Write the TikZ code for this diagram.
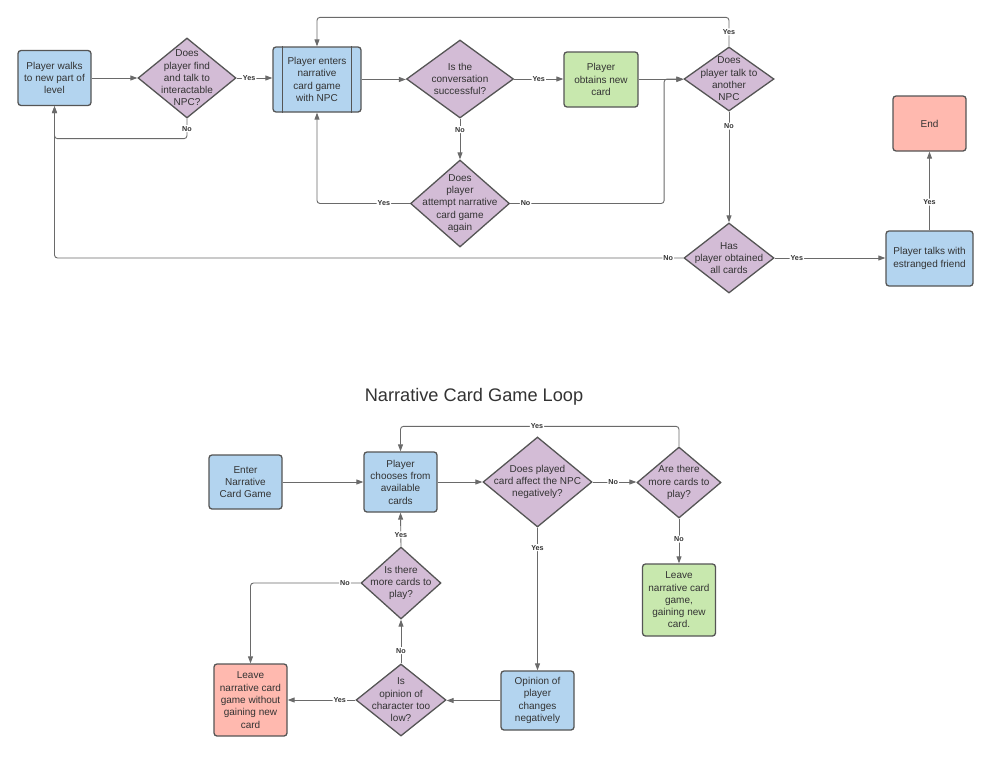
\documentclass[tikz,border=0pt]{standalone}
\usepackage{fontspec}
\setmainfont{Liberation Sans}
\usetikzlibrary{shapes.geometric,arrows.meta,calc}
\definecolor{bluef}{HTML}{B3D4EF}
\definecolor{purf}{HTML}{D3BCD6}
\definecolor{greenf}{HTML}{C8E8AE}
\definecolor{redf}{HTML}{FFB9AF}
\definecolor{edgec}{HTML}{555555}
\definecolor{linec}{HTML}{6A6A6A}
\definecolor{txt}{HTML}{333333}
\begin{document}
\begin{tikzpicture}[x=1pt,y=-1pt,
  bodyfont/.style={font=\fontsize{10}{12.3}\selectfont},
  box/.style={draw=edgec, line width=1.3pt, rounded corners=3pt, inner sep=0pt,
    align=center, text=txt, bodyfont, minimum width=73pt, minimum height=55pt},
  bluebox/.style={box, fill=bluef},
  greenbox/.style={box, fill=greenf},
  redbox/.style={box, fill=redf},
  dia/.style={diamond, draw=edgec, line width=1.3pt, inner sep=0pt, fill=purf},
  dtext/.style={align=center, text=txt, bodyfont, inner sep=0pt},
  conn/.style={draw=linec, line width=0.9pt, rounded corners=3pt},
  arr/.style={conn, -{Triangle[length=7pt,width=5pt]}},
  lbl/.style={fill=white, text=txt, font=\fontsize{7.2}{8}\selectfont\bfseries, inner sep=1pt}
]
\useasboundingbox[fill=white] (0,0) rectangle (991,774);

% ---------- top flow ----------
\node[bluebox] (A) at (54.5,78) {Player walks\\to new part of\\level};
\node[dia, minimum width=98pt, minimum height=80pt,
  label={[dtext]center:{Does\\player find\\and talk to\\interactable\\NPC?}}] (B) at (187,78) {};
\node[bluebox, minimum width=88pt, minimum height=65pt] (C) at (317,79.5) {Player enters\\narrative\\card game\\with NPC};
\draw[draw=edgec, line width=1.3pt] ([xshift=10pt]C.north west) -- ([xshift=10pt]C.south west);
\draw[draw=edgec, line width=1.3pt] ([xshift=-10pt]C.north east) -- ([xshift=-10pt]C.south east);
\node[dia, minimum width=107pt, minimum height=78pt,
  label={[dtext]center:{Is the\\conversation\\successful?}}] (D) at (460,79) {};
\node[greenbox, minimum width=74pt] (E) at (601,79.5) {Player\\obtains new\\card};
\node[dia, minimum width=90pt, minimum height=64pt,
  label={[dtext]center:{Does\\player talk to\\another\\NPC}}] (F) at (729,79) {};
\node[dia, minimum width=99pt, minimum height=87pt,
  label={[dtext]center:{Does\\player\\attempt narrative\\card game\\again}}] (G) at (460,203.5) {};
\node[dia, minimum width=90pt, minimum height=70pt,
  label={[dtext]center:{Has\\player obtained\\all cards}}] (H) at (729,258) {};
\node[bluebox, minimum width=87pt] (I) at (929.5,258.5) {Player talks with\\estranged friend};
\node[redbox] (End) at (929.5,123.5) {End};

\draw[arr] (A.east) -- (A.east -| B.west);
\draw[arr] (B.east) -- node[lbl,pos=0.35]{Yes} (B.east -| C.west);
\draw[arr] (B.south) -- node[lbl]{No} ++(0,20) -| (A.south);
\draw[arr] (C.east) -- (C.east -| D.west);
\draw[arr] (D.east) -- node[lbl]{Yes} (D.east -| E.west);
\draw[arr] (E.east) -- (E.east -| F.west);
\draw[arr] (F.north) -- node[lbl]{Yes} ++(0,-29) -| (C.north);
\draw[arr] (D.south) -- node[lbl,pos=0.27]{No} (G.north);
\draw[arr] (G.west) -- node[lbl,pos=0.28]{Yes} (G.west -| C.south) -- (C.south);
\draw[arr] (G.east) -- node[lbl,pos=0.1]{No} ++(154,0) coordinate (g1) -- (g1 |- F.west) -- (F.west);
\draw[arr] (F.south) -- node[lbl,pos=0.13]{No} (H.north);
\draw[arr] (H.west) -- node[lbl,pos=0.024]{No} (H.west -| A.south) -- (A.south);
\draw[arr] (H.east) -- node[lbl,pos=0.2]{Yes} (H.east -| I.west);
\draw[arr] (I.north) -- node[lbl,pos=0.36]{Yes} (End.south);

% ---------- card game loop ----------
\node[text=txt, font=\fontsize{18.2}{22}\selectfont] (T) at (474,397) {Narrative Card Game Loop};
\node[bluebox, minimum height=54pt] (J) at (245.5,482) {Enter\\Narrative\\Card Game};
\node[bluebox, minimum height=60pt] (K) at (400.5,482) {Player\\chooses from\\available\\cards};
\node[dia, minimum width=109pt, minimum height=90pt,
  label={[dtext]center:{Does played\\card affect the NPC\\negatively?}}] (L) at (537.5,482) {};
\node[dia, minimum width=84pt, minimum height=71pt,
  label={[dtext]center:{Are there\\more cards to\\play?}}] (M) at (679,482.5) {};
\node[greenbox, minimum height=72pt] (N) at (679,600) {Leave\\narrative card\\game,\\gaining new\\card.};
\node[bluebox, minimum height=59pt] (O) at (537.5,700.5) {Opinion of\\player\\changes\\negatively};
\node[dia, minimum width=90pt, minimum height=72pt,
  label={[dtext]center:{Is\\opinion of\\character too\\low?}}] (P) at (401,700) {};
\node[redbox, minimum height=72pt] (Q) at (250.5,700) {Leave\\narrative card\\game without\\gaining new\\card};
\node[dia, minimum width=80pt, minimum height=72pt,
  label={[dtext]center:{Is there\\more cards to\\play?}}] (R) at (401,583) {};

\draw[arr] (J.east) -- (J.east -| K.west);
\draw[arr] (K.east) -- (K.east -| L.west);
\draw[arr] (L.east) -- node[lbl,pos=0.47]{No} (L.east -| M.west);
\draw[arr] (M.north) -- ++(0,-20) coordinate (m1) -- node[lbl,pos=0.51]{Yes} (m1 -| K.north) -- (K.north);
\draw[arr] (M.south) -- node[lbl,pos=0.46]{No} (N.north);
\draw[arr] (L.south) -- node[lbl,pos=0.14]{Yes} (O.north);
\draw[arr] (O.west) -- (O.west -| P.east);
\draw[arr] (P.west) -- node[lbl,pos=0.23]{Yes} (P.west -| Q.east);
\draw[arr] (P.north) -- node[lbl,pos=0.29]{No} (R.south);
\draw[arr] (R.north) -- node[lbl,pos=0.34]{Yes} (K.south);
\draw[arr] (R.west) -- node[lbl,pos=0.14]{No} (R.west -| Q.north) -- (Q.north);
\end{tikzpicture}
\end{document}
